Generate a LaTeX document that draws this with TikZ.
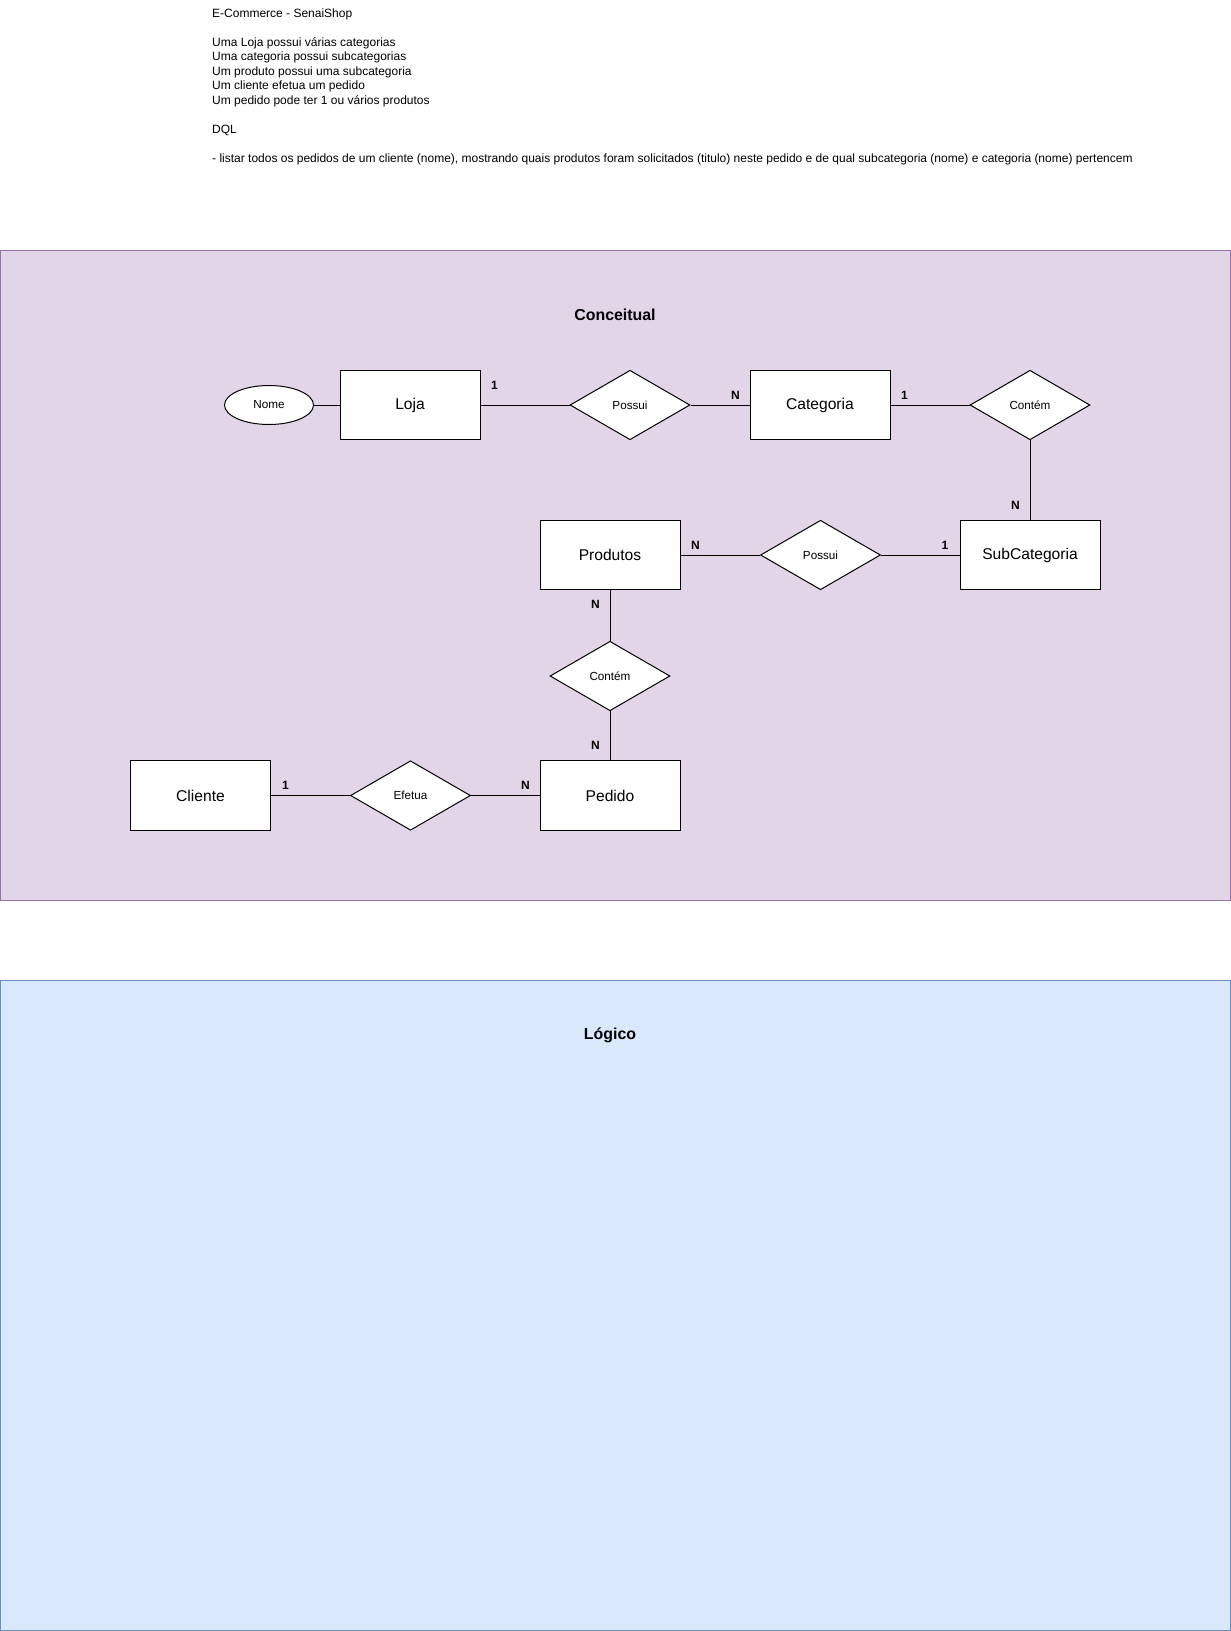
\documentclass[tikz,border=0pt]{standalone}
\usepackage{fontspec}
\setmainfont{Liberation Sans}
\usetikzlibrary{shapes.geometric}
\definecolor{lilacfill}{HTML}{E1D5E7}
\definecolor{lilacline}{HTML}{9673A6}
\definecolor{skyfill}{HTML}{DAE8FC}
\definecolor{skyline}{HTML}{6C8EBF}
\tikzset{
  entity/.style={draw, fill=white, line width=1pt, minimum width=140pt, minimum height=69.5pt, inner sep=0pt, font=\fontsize{15.6}{18}\selectfont},
  relation/.style={draw, fill=white, diamond, aspect=1.7, line width=1pt, minimum width=120pt, minimum height=69.5pt, inner sep=0pt, font=\fontsize{11.7}{14}\selectfont},
  attrib/.style={draw, fill=white, ellipse, line width=1pt, minimum width=89pt, minimum height=39pt, inner sep=0pt, font=\fontsize{11.7}{14}\selectfont},
  card/.style={inner sep=0pt, font=\bfseries\fontsize{12}{14}\selectfont},
  heading/.style={inner sep=0pt, font=\bfseries\fontsize{15.9}{18}\selectfont},
  panel/.style={line width=1pt},
  conn/.style={line width=1pt}
}

\begin{document}
\begin{tikzpicture}[x=1pt, y=-1pt]
\useasboundingbox (0,0) rectangle (1231,1631);
\draw[panel, fill=lilacfill, draw=lilacline] (0.5,250.5) rectangle (1230.5,900.5);
\draw[panel, fill=skyfill, draw=skyline] (0.5,980.5) rectangle (1230.5,1630.5);

\node[anchor=north west, inner sep=0pt, align=left, font=\fontsize{12}{14.5}\selectfont] (notes) at (212,8.4)
  {E-Commerce - SenaiShop\\ \mbox{}\\
   Uma Loja possui várias categorias\\
   Uma categoria possui subcategorias\\
   Um produto possui uma subcategoria\\
   Um cliente efetua um pedido\\
   Um pedido pode ter 1 ou vários produtos\\ \mbox{}\\
   DQL\\ \mbox{}\\
   - listar todos os pedidos de um cliente (nome), mostrando quais produtos foram solicitados (titulo) neste pedido e de qual subcategoria (nome) e categoria (nome) pertencem};

\node[heading] (conceitual) at (615,315) {Conceitual};
\node[heading] (logico) at (610,1035.5) {Lógico};

\node[entity] (loja) at (410,405) {Loja};
\node[entity] (categoria) at (820,405) {Categoria};
\node[entity] (subcategoria) at (1030,555) {SubCategoria};
\node[entity] (produtos) at (610,555) {Produtos};
\node[entity] (pedido) at (610,795.5) {Pedido};
\node[entity] (cliente) at (200.5,795.5) {Cliente};

\node[attrib] (nome) at (269,405) {Nome};
\node[relation] (possuiA) at (630,405) {Possui};
\node[relation] (contemA) at (1030,405) {Contém};
\node[relation] (possuiB) at (820.5,555) {Possui};
\node[relation] (contemB) at (610,676) {Contém};
\node[relation] (efetua) at (410.5,795.5) {Efetua};

\draw[conn] (nome) -- (loja);
\draw[conn] (loja) -- (possuiA);
\draw[conn] (possuiA) -- (categoria);
\draw[conn] (categoria) -- (contemA);
\draw[conn] (contemA) -- (subcategoria);
\draw[conn] (produtos) -- (possuiB);
\draw[conn] (possuiB) -- (subcategoria);
\draw[conn] (produtos) -- (contemB);
\draw[conn] (contemB) -- (pedido);
\draw[conn] (cliente) -- (efetua);
\draw[conn] (efetua) -- (pedido);

\node[card] (c1) at (494.5,385) {1};
\node[card] (c2) at (735.5,395) {N};
\node[card] (c3) at (904.5,395) {1};
\node[card] (c4) at (1015.5,505.5) {N};
\node[card] (c5) at (695.5,545) {N};
\node[card] (c6) at (945,545) {1};
\node[card] (c7) at (595.5,604.5) {N};
\node[card] (c8) at (595.5,745) {N};
\node[card] (c9) at (285.5,785.5) {1};
\node[card] (c10) at (525.5,785.5) {N};
\end{tikzpicture}
\end{document}
